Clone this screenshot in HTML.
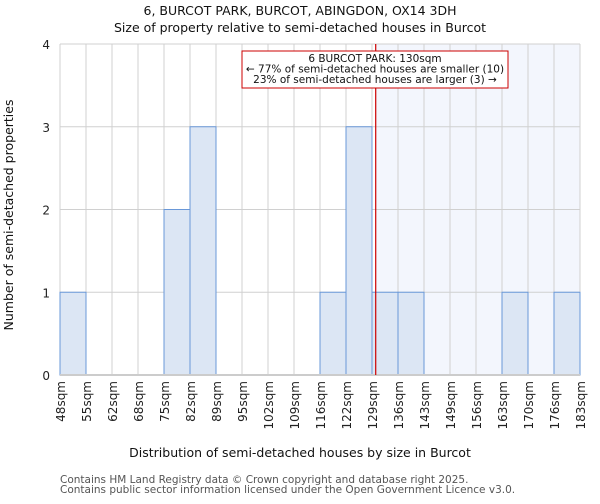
<!DOCTYPE html>
<html><head><meta charset="utf-8"><style>
body{margin:0;background:#fff;font-family:"DejaVu Sans","Liberation Sans",sans-serif;}
</style></head><body>
<svg width="600" height="500" xmlns="http://www.w3.org/2000/svg" font-family="DejaVu Sans, Liberation Sans, sans-serif">
<g id="g"></g>
</svg>
<script>
const edges=[48,55,62,68,75,82,89,95,102,109,116,122,129,136,143,149,156,163,170,176,183];
const counts=[1,0,0,0,2,3,0,0,0,0,1,3,1,1,0,0,0,1,0,1];
const yTicks=[0,1,2,3,4];
const propertySize=130;
const x0=60,x1=580,y0=375,y1=44;
const bw=(x1-x0)/(edges.length-1);
const xi=i=>x0+i*bw;
const y=v=>y0-(v/4)*(y0-y1);
function xs(v){for(let i=0;i<edges.length-1;i++){if(v<=edges[i+1])return xi(i)+(v-edges[i])/(edges[i+1]-edges[i])*bw;}return x1;}
const g=document.getElementById('g');const NS='http://www.w3.org/2000/svg';
function mk(t,a,txt){const e=document.createElementNS(NS,t);for(const k in a)e.setAttribute(k,a[k]);if(txt!=null)e.textContent=txt;g.appendChild(e);return e;}
let e;
const px=xs(propertySize);
e=mk('rect',{x:px,y:y1,width:x1-px,height:y0-y1,fill:'#f3f6fd'});


for(let i=0;i<edges.length;i++){e=mk('line',{x1:xi(i),x2:xi(i),y1:y1,y2:y0,stroke:'#d0d0d0','stroke-width':1});

}
yTicks.forEach(v=>{e=mk('line',{x1:x0,x2:x1,y1:y(v),y2:y(v),stroke:'#d0d0d0','stroke-width':1});


e=mk('text',{x:x0-10,y:y(v)+5,'text-anchor':'end','font-size':12,fill:'#222'},String(v));

});
counts.forEach((c,i)=>{if(!c)return;e=mk('rect',{x:xi(i),y:y(c),width:bw,height:y0-y(c),fill:'#dce6f4',stroke:'#6a98d8','stroke-width':1});

});
e=mk('line',{x1:x0,x2:x1,y1:y0,y2:y0,stroke:'#cccccc','stroke-width':2});


edges.forEach((v,i)=>{e=mk('text',{transform:`translate(${xi(i)+5},381) rotate(-90)`,'text-anchor':'end','font-size':12,fill:'#222'},v+'sqm');

});
e=mk('line',{x1:px,x2:px,y1:y1,y2:y0,stroke:'#cc0000','stroke-width':1.2});


e=mk('rect',{x:242,y:51,width:266,height:37,fill:'#fff',stroke:'#cc0000','stroke-width':1});


[['6 BURCOT PARK: 130sqm',62],['← 77% of semi-detached houses are smaller (10)',72.5],['23% of semi-detached houses are larger (3) →',83]].forEach(([t,yy])=>{e=mk('text',{x:375,y:yy,'text-anchor':'middle','font-size':10.5,fill:'#111'},t);

});
e=mk('text',{x:300,y:15,'text-anchor':'middle','font-size':12.5,fill:'#111'},'6, BURCOT PARK, BURCOT, ABINGDON, OX14 3DH');


e=mk('text',{x:300,y:32,'text-anchor':'middle','font-size':12.5,fill:'#111'},'Size of property relative to semi-detached houses in Burcot');


e=mk('text',{x:300,y:457,'text-anchor':'middle','font-size':12.5,fill:'#111'},'Distribution of semi-detached houses by size in Burcot');


e=mk('text',{transform:'translate(13,215) rotate(-90)','text-anchor':'middle','font-size':12.5,fill:'#111'},'Number of semi-detached properties');


e=mk('text',{x:60,y:483,'font-size':10.5,fill:'#555'},'Contains HM Land Registry data © Crown copyright and database right 2025.');


e=mk('text',{x:60,y:493,'font-size':10.5,fill:'#555'},'Contains public sector information licensed under the Open Government Licence v3.0.');


</script>
</body></html>
